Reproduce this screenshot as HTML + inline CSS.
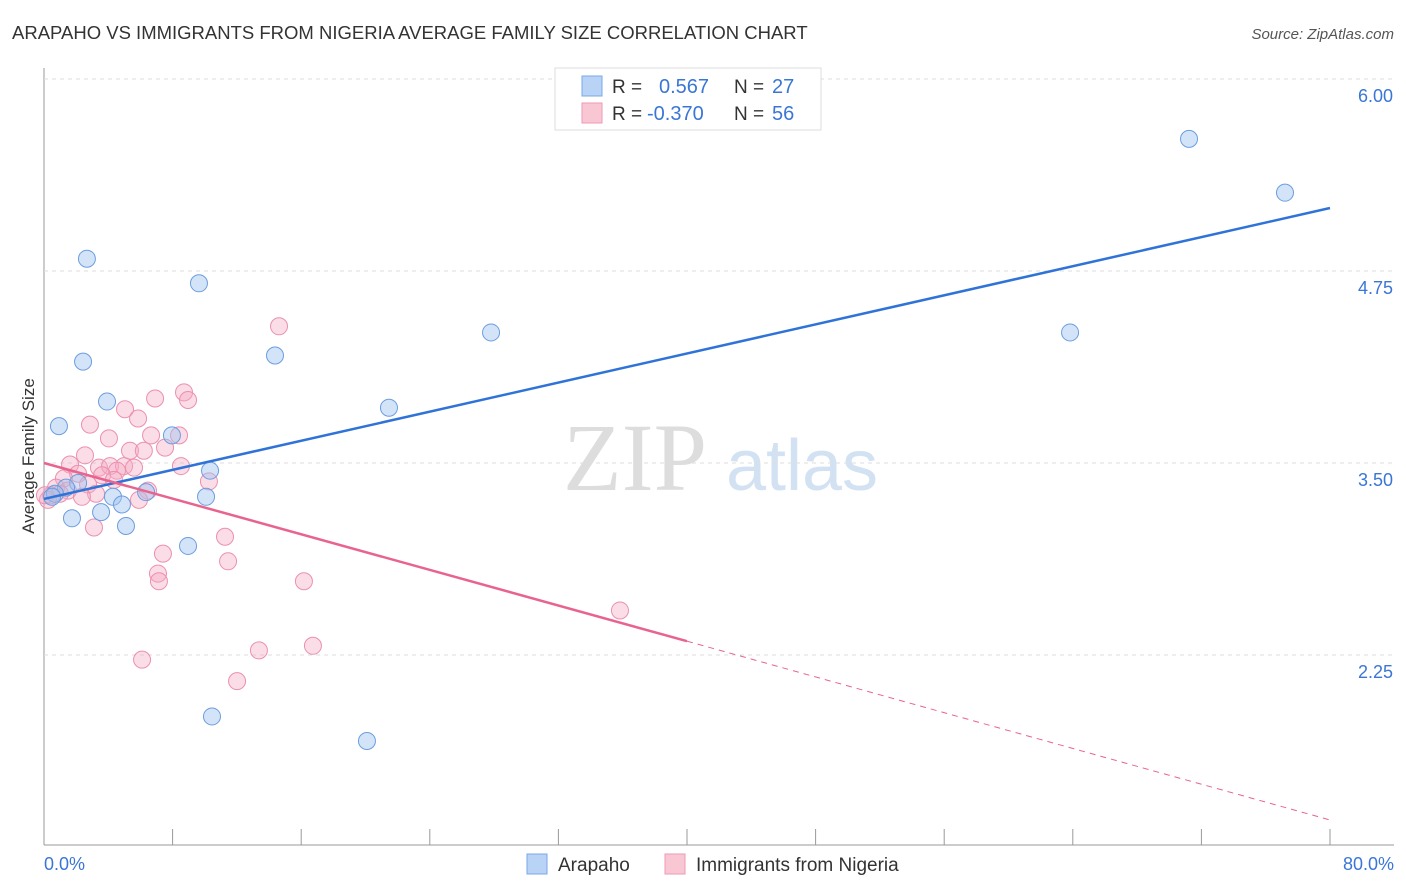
<!DOCTYPE html>
<html><head><meta charset="utf-8"><style>
body{margin:0;background:#fff;font-family:"Liberation Sans",sans-serif;}
svg{display:block}
</style></head><body>
<svg id="c" width="1406" height="892" xmlns="http://www.w3.org/2000/svg">
<text x="12" y="39" font-size="18.5" fill="#333">ARAPAHO VS IMMIGRANTS FROM NIGERIA AVERAGE FAMILY SIZE CORRELATION CHART</text>
<text x="1394" y="39" font-size="15" fill="#555" font-style="italic" text-anchor="end">Source: ZipAtlas.com</text>
<text x="34" y="456" font-size="17" fill="#333" text-anchor="middle" transform="rotate(-90 34 456)">Average Family Size</text>
<g>
<text x="635" y="490" font-size="96" font-family="Liberation Serif,serif" fill="#ddd" text-anchor="middle">ZIP</text>
<text x="802" y="490" font-size="72" fill="#d3e2f3" text-anchor="middle">atlas</text>
</g>
<g id="grid"></g><g id="marks"></g>
<g>
<rect x="555" y="68" width="266" height="62" fill="#fff" stroke="#ddd"/>
<rect x="582" y="76" width="20" height="20" fill="#b8d3f5" stroke="#7aa8e8"/>
<rect x="582" y="103" width="20" height="20" fill="#f9c6d4" stroke="#ee9ab4"/>
<text x="612" y="93" font-size="19" fill="#333">R =</text><text x="659" y="93" font-size="20" fill="#3a76d6">0.567</text>
<text x="734" y="93" font-size="19" fill="#333">N =</text><text x="772" y="93" font-size="20" fill="#3a76d6">27</text>
<text x="612" y="120" font-size="19" fill="#333">R =</text><text x="647" y="120" font-size="20" fill="#3a76d6">-0.370</text>
<text x="734" y="120" font-size="19" fill="#333">N =</text><text x="772" y="120" font-size="20" fill="#3a76d6">56</text>
</g>
<g>
<rect x="527" y="854" width="20" height="20" fill="#b8d3f5" stroke="#7aa8e8"/>
<text x="558" y="871" font-size="19" fill="#333">Arapaho</text>
<rect x="665" y="854" width="20" height="20" fill="#f9c6d4" stroke="#ee9ab4"/>
<text x="696" y="871" font-size="19" fill="#333">Immigrants from Nigeria</text>
</g>
</svg>
<script>
const xTicks=[8,16,24,32,40,48,56,64,72,80];
const yTicks=[2.25,3.5,4.75,6.0];
const yTickLabels=["2.25","3.50","4.75","6.00"];
const arapahoX=[2.67,9.64,2.43,14.37,27.81,3.92,21.46,0.93,7.96,10.33,2.12,1.37,4.29,10.08,6.35,4.85,3.55,1.74,5.10,8.96,10.45,20.09,71.23,77.20,63.83,0.68,0.5];
const arapahoY=[4.83,4.67,4.16,4.20,4.35,3.90,3.86,3.74,3.68,3.45,3.37,3.34,3.28,3.28,3.31,3.23,3.18,3.14,3.09,2.96,1.85,1.69,5.61,5.26,4.35,3.30,3.28];
const nigeriaX=[14.62,8.71,8.96,6.91,5.04,5.85,2.86,4.04,6.66,8.40,7.53,5.35,6.21,2.55,8.52,1.62,3.42,4.11,4.98,5.60,4.54,2.12,3.61,1.24,4.35,10.26,2.74,0.75,1.49,6.47,3.24,0.44,0.99,5.91,2.36,3.11,11.26,7.40,11.45,7.09,7.15,16.17,35.83,16.73,13.37,6.10,12.01,0.25,0.06];
const nigeriaY=[4.39,3.96,3.91,3.92,3.85,3.79,3.75,3.66,3.68,3.68,3.60,3.58,3.58,3.55,3.48,3.49,3.47,3.48,3.48,3.47,3.45,3.43,3.42,3.40,3.39,3.38,3.36,3.34,3.32,3.32,3.30,3.29,3.30,3.26,3.28,3.08,3.02,2.91,2.86,2.78,2.73,2.73,2.54,2.31,2.28,2.22,2.08,3.26,3.29];
const blueTrend=[[0,3.266],[80,5.16]];
const pinkTrend=[[0,3.5],[40,2.34],[80,1.176]];
const NS="http://www.w3.org/2000/svg";
const X=v=>44+v*16.075, Y=v=>463-(v-3.5)*153.6;
function mk(t,a,p){const e=document.createElementNS(NS,t);for(const k in a)e.setAttribute(k,a[k]);p.appendChild(e);return e;}
const g=document.getElementById('grid'),m=document.getElementById('marks');
mk('line',{x1:44,y1:845,x2:1394,y2:845,stroke:'#999'},g);
mk('line',{x1:44,y1:68,x2:44,y2:845,stroke:'#999'},g);
yTicks.forEach((t,i)=>{
  const l=mk('line',{x1:44,y1:Y(t),x2:1394,y2:Y(t),stroke:'#ddd','stroke-dasharray':'4,4'},g);
  
  
  const tx=mk('text',{x:1393,y:Y(t)+23,'font-size':18,fill:'#3a76d6','text-anchor':'end'},g);
  tx.textContent=yTickLabels[i];
  
  
});
xTicks.forEach(t=>{const l=mk('line',{x1:X(t),y1:829,x2:X(t),y2:845,stroke:'#999'},g);
  
  });
const x0=mk('text',{x:44,y:870,'font-size':18,fill:'#3a76d6'},g);x0.textContent='0.0%';


const x1=mk('text',{x:1394,y:870,'font-size':18,fill:'#3a76d6','text-anchor':'end'},g);x1.textContent='80.0%';


nigeriaX.forEach((v,i)=>{const c=mk('circle',{cx:X(v),cy:Y(nigeriaY[i]),r:8.5,fill:'rgba(246,170,195,0.4)',stroke:'#eb90ae','stroke-width':1},m);
  
  });
arapahoX.forEach((v,i)=>{const c=mk('circle',{cx:X(v),cy:Y(arapahoY[i]),r:8.5,fill:'rgba(160,196,240,0.45)',stroke:'#6b9de0','stroke-width':1},m);
  
  });
const bl=mk('line',{x1:X(blueTrend[0][0]),y1:Y(blueTrend[0][1]),x2:X(blueTrend[1][0]),y2:Y(blueTrend[1][1]),stroke:'#2f73d8','stroke-width':2.5},m);


const pl=mk('line',{x1:X(pinkTrend[0][0]),y1:Y(pinkTrend[0][1]),x2:X(pinkTrend[1][0]),y2:Y(pinkTrend[1][1]),stroke:'#e8648f','stroke-width':2.5},m);


const pd=mk('line',{x1:X(pinkTrend[1][0]),y1:Y(pinkTrend[1][1]),x2:X(pinkTrend[2][0]),y2:Y(pinkTrend[2][1]),stroke:'#e8648f','stroke-width':1,'stroke-dasharray':'6,5'},m);


</script>
</body></html>
